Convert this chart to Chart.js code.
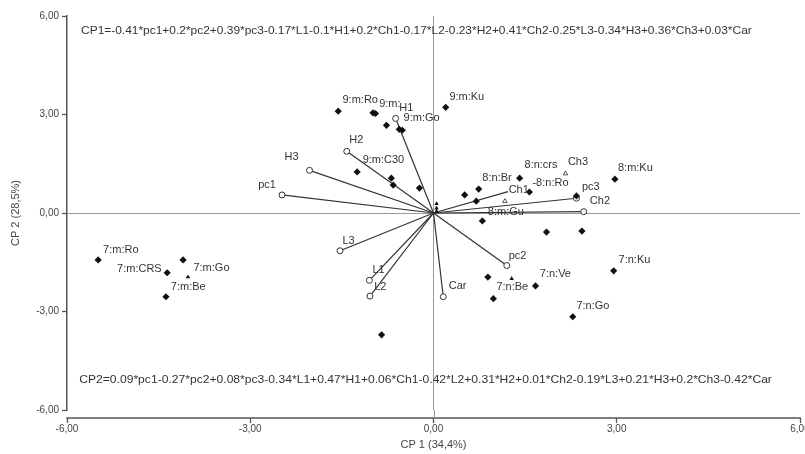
<!DOCTYPE html>
<html><head><meta charset="utf-8">
<script src="https://cdn.jsdelivr.net/npm/chart.js@4/dist/chart.umd.min.js"></script>
<style>html,body{margin:0;padding:0;background:#fff}</style>
</head><body>
<canvas id="c" width="805" height="454"></canvas>
<script>
// Observation scores (filled diamonds)
const obsX = [-5.49,-4.36,-4.10,-4.38,-1.56,-0.99,-0.95,-0.77,-0.56,-0.51,0.20,-1.25,-0.69,-0.66,-0.23,0.51,0.74,1.41,1.57,0.70,0.80,2.34,2.97,2.43,1.85,0.89,1.67,0.98,2.95,2.28,-0.85];
const obsY = [-1.43,-1.82,-1.43,-2.55,3.10,3.05,3.03,2.67,2.55,2.52,3.22,1.25,1.06,0.85,0.76,0.55,0.73,1.06,0.64,0.36,-0.24,0.52,1.03,-0.55,-0.58,-1.95,-2.22,-2.61,-1.76,-3.16,-3.71];
// Small triangle markers
const triX = [-4.02,1.28,0.05,0.05,0.05];
const triY = [-1.95,-2.00,0.28,0.15,0.05];
// Open caret markers
const caretX = [1.17,2.16];
const caretY = [0.36,1.20];
// Variable vectors (open circles, lines from origin)
const varNames = ['pc1','pc2','pc3','L1','H1','Ch1','L2','H2','Ch2','L3','H3','Car'];
const varX = [-2.48,1.20,2.34,-1.05,-0.62,1.22,-1.04,-1.42,2.46,-1.53,-2.03,0.16];
const varY = [0.55,-1.60,0.45,-2.05,2.88,0.65,-2.53,1.88,0.04,-1.15,1.30,-2.55];
const varMarker = [1,1,1,1,1,0,1,1,1,1,1,1];
// Text labels (anchor = left edge, middle)
const labelText = ['7:m:Ro','7:m:CRS','7:m:Go','7:m:Be','9:m:Ro','9:m:','H1','9:m:Go','9:m:Ku','H2','9:m:C30','H3','pc1','8:n:Br','8:n:crs','Ch3','-8:n:Ro','Ch1','pc3','Ch2','8:m:Gu','8:m:Ku','L3','L1','L2','Car','pc2','7:n:Ve','7:n:Be','7:n:Ku','7:n:Go'];
const labelX = [-5.41,-5.18,-3.93,-4.30,-1.49,-0.89,-0.56,-0.49,0.26,-1.38,-1.16,-2.44,-2.87,0.80,1.49,2.20,1.62,1.23,2.43,2.56,0.89,3.02,-1.49,-1.00,-0.97,0.25,1.23,1.74,1.03,3.03,2.34];
const labelY = [-1.12,-1.70,-1.67,-2.25,3.43,3.31,3.19,2.89,3.53,2.22,1.61,1.70,0.85,1.06,1.46,1.55,0.91,0.70,0.79,0.36,0.03,1.37,-0.85,-1.73,-2.25,-2.22,-1.31,-1.85,-2.25,-1.43,-2.83];
// Equations
const eqText = [
 'CP1=-0.41*pc1+0.2*pc2+0.39*pc3-0.17*L1-0.1*H1+0.2*Ch1-0.17*L2-0.23*H2+0.41*Ch2-0.25*L3-0.34*H3+0.36*Ch3+0.03*Car',
 'CP2=0.09*pc1-0.27*pc2+0.08*pc3-0.34*L1+0.47*H1+0.06*Ch1-0.42*L2+0.31*H2+0.01*Ch2-0.19*L3+0.21*H3+0.2*Ch3-0.42*Car'
];
const eqX0 = [-5.77,-5.80];
const eqX1 = [5.21,5.54];
const eqY = [5.53,-5.08];
const axisTicks = [-6,-3,0,3,6];
const xTitle = 'CP 1 (34,4%)';
const yTitle = 'CP 2 (28,5%)';

const FONT = "'Liberation Sans', Arial, sans-serif";
const fmt = v => v.toFixed(2).replace('.', ',');

const datasets = [];
varNames.forEach((n, i) => {
  datasets.push({
    type: 'line', label: n,
    data: [{x: 0, y: 0}, {x: varX[i], y: varY[i]}],
    borderColor: '#333', borderWidth: 1.2,
    pointRadius: [0, varMarker[i] ? 3 : 0], pointStyle: 'circle',
    pointBackgroundColor: '#fff', pointBorderColor: '#333', pointBorderWidth: 1,
    showLine: true, fill: false, order: 1
  });
});
datasets.push({
  label: 'obs', data: obsX.map((x, i) => ({x, y: obsY[i]})),
  pointStyle: 'rectRot', pointRadius: 3.6,
  backgroundColor: '#111', borderColor: '#111', borderWidth: 0, order: 0
});
datasets.push({
  label: 'tri', data: triX.map((x, i) => ({x, y: triY[i]})),
  pointStyle: 'triangle', pointRadius: 2.6,
  backgroundColor: '#111', borderColor: '#111', borderWidth: 0, order: 0
});
datasets.push({
  label: 'caret', data: caretX.map((x, i) => ({x, y: caretY[i]})),
  pointStyle: 'triangle', pointRadius: 2.6,
  backgroundColor: '#fff', borderColor: '#444', borderWidth: 0.9, order: 0
});

const annot = {
  id: 'annot',
  afterDraw(chart) {
    const ctx = chart.ctx, xs = chart.scales.x, ys = chart.scales.y, ca = chart.chartArea;
    ctx.save();
    const yl = ca.bottom + 8;
    ctx.strokeStyle = '#555'; ctx.lineWidth = 1.5;
    ctx.beginPath();
    ctx.moveTo(xs.getPixelForValue(-6) - 0.75, yl);
    ctx.lineTo(xs.getPixelForValue(6) + 0.75, yl);
    ctx.stroke();
    ctx.strokeStyle = '#999'; ctx.lineWidth = 1;
    ctx.beginPath();
    ctx.moveTo(Math.round(xs.getPixelForValue(0)) + 0.5, ca.bottom);
    ctx.lineTo(Math.round(xs.getPixelForValue(0)) + 0.5, yl);
    ctx.stroke();
    ctx.fillStyle = '#333';
    ctx.font = '11px ' + FONT;
    ctx.textAlign = 'left'; ctx.textBaseline = 'middle';
    labelText.forEach((t, i) => {
      ctx.fillText(t, xs.getPixelForValue(labelX[i]), ys.getPixelForValue(labelY[i]));
    });
    eqText.forEach((t, i) => {
      const x0 = xs.getPixelForValue(eqX0[i]), x1 = xs.getPixelForValue(eqX1[i]);
      const y = ys.getPixelForValue(eqY[i]);
      const w = ctx.measureText(t).width;
      ctx.save();
      ctx.translate(x0, y);
      ctx.scale((x1 - x0) / w, 1);
      ctx.fillText(t, 0, 0);
      ctx.restore();
    });
    ctx.restore();
  }
};

new Chart(document.getElementById('c'), {
  type: 'scatter',
  data: { datasets },
  options: {
    responsive: false, animation: false, devicePixelRatio: 1,
    layout: { padding: { top: 16, right: 5, left: 0, bottom: 0 } },
    plugins: { legend: { display: false }, tooltip: { enabled: false } },
    scales: {
      x: {
        type: 'linear', min: -6, max: 6,
        afterBuildTicks: s => { s.ticks = axisTicks.map(v => ({value: v})); },
        afterFit: s => { s.height = 44; s.paddingLeft = 0; s.paddingRight = 0; },
        ticks: { callback: v => fmt(v), font: { family: FONT, size: 10 }, color: '#444', padding: 0, maxRotation: 0 },
        grid: {
          color: c => (c.tick && c.tick.value === 0) ? '#999' : 'rgba(0,0,0,0)',
          lineWidth: 1, drawTicks: true, tickLength: 13,
          tickColor: '#555', tickWidth: 1.3, tickBorderDash: [0, 8, 5, 60]
        },
        border: { display: false },
        title: { display: true, text: xTitle, font: { family: FONT, size: 11 }, color: '#444', padding: { top: 0, bottom: 2 } }
      },
      y: {
        type: 'linear', min: -6, max: 6,
        afterBuildTicks: s => { s.ticks = axisTicks.map(v => ({value: v})); },
        afterFit: s => { s.width = 67; s.paddingTop = 0; s.paddingBottom = 0; },
        ticks: { callback: v => fmt(v), font: { family: FONT, size: 10 }, color: '#444', padding: 3 },
        grid: {
          color: c => (c.tick && c.tick.value === 0) ? '#999' : 'rgba(0,0,0,0)',
          lineWidth: 1, drawTicks: true, tickLength: 5, tickColor: '#555', tickWidth: 1.3
        },
        border: { display: true, color: '#555', width: 1.5 },
        title: { display: true, text: yTitle, font: { family: FONT, size: 11 }, color: '#444', padding: { top: 9, bottom: 0 } }
      }
    }
  },
  plugins: [annot]
});
</script>
</body></html>
